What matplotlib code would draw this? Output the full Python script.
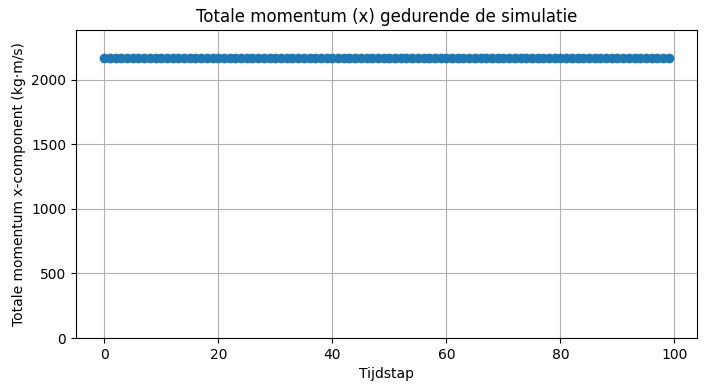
import matplotlib
matplotlib.use("Agg")
import matplotlib.pyplot as plt

# momentum blijft constant over alle tijdstappen
tijdstappen = list(range(100))
momentum_x = [2168.0] * 100

fig = plt.figure(figsize=(7.04, 3.91), dpi=100)
ax = fig.add_axes([76 / 704, 1 - 338 / 391, (697 - 76) / 704, (338 - 30) / 391])
ax.plot(tijdstappen, momentum_x, marker="o", color="#1f77b4")
ax.set_ylim(0, max(momentum_x) * 1.1)
ax.set_title("Totale momentum (x) gedurende de simulatie")
ax.set_xlabel("Tijdstap")
ax.set_ylabel("Totale momentum x-component (kg·m/s)")
ax.grid(True)
fig.savefig("out.png", dpi=100)
